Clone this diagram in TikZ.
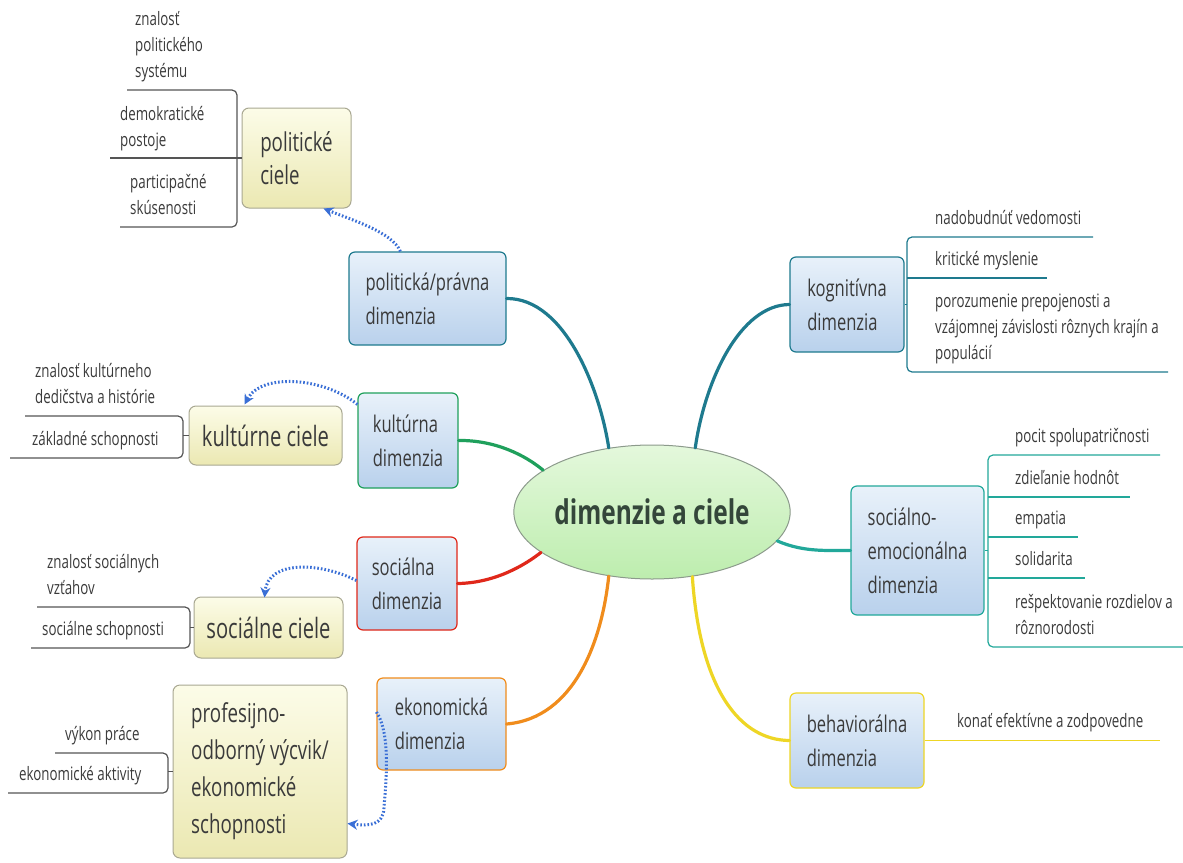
\documentclass[tikz,border=0pt]{standalone}
\usepackage{fontspec}
\setmainfont{Open Sans}[FakeStretch=0.72]
\usetikzlibrary{shapes.geometric,arrows.meta,calc}

\definecolor{txt}{HTML}{3A3A3A}
\definecolor{roottext}{HTML}{34463A}
\definecolor{roottop}{HTML}{E4F8DC}
\definecolor{rootbot}{HTML}{BDEDAE}
\definecolor{rootborder}{HTML}{8C9A8C}
\definecolor{dimtop}{HTML}{E8F1FA}
\definecolor{dimbot}{HTML}{B9D1EC}
\definecolor{goaltop}{HTML}{FCFCE8}
\definecolor{goalbot}{HTML}{EBE8B2}
\definecolor{goalborder}{HTML}{A9A892}
\definecolor{polc}{HTML}{1E7A8E}
\definecolor{kogc}{HTML}{1E7A8E}
\definecolor{kulc}{HTML}{1FA05C}
\definecolor{emoc}{HTML}{22A89A}
\definecolor{socc}{HTML}{E0281A}
\definecolor{ekoc}{HTML}{F08C1C}
\definecolor{behc}{HTML}{EED625}
\definecolor{leafgray}{HTML}{555555}
\definecolor{arrowblue}{HTML}{3A6FD6}

\begin{document}
\begin{tikzpicture}[x=1pt,y=-1pt,
  root/.style={ellipse, draw=rootborder, line width=1pt, top color=roottop,
    bottom color=rootbot, text=roottext, inner sep=0pt,
    minimum width=275pt, minimum height=134pt,
    font=\fontsize{34}{40}\selectfont\bfseries},
  dimbox/.style={draw=#1, line width=1.2pt, rounded corners=6pt,
    top color=dimtop, bottom color=dimbot, text=txt, align=left,
    inner sep=0pt, font=\fontsize{23}{34}\selectfont},
  goalbox/.style={draw=goalborder, line width=1pt, rounded corners=7pt,
    top color=goaltop, bottom color=goalbot, text=txt, align=left,
    inner sep=0pt},
  leaf/.style={anchor=south west, inner sep=0pt, text depth=0pt, align=left,
    text=txt, font=\fontsize{18.5}{26}\selectfont},
  branch/.style={draw=#1, line width=3.2pt, line cap=round},
  bline/.style={draw=#1, line width=1.2pt, rounded corners=5pt},
  goto/.style={draw=arrowblue, line width=3pt, dash pattern=on 1.6pt off 2pt,
    -{Stealth[length=10pt,width=10pt]}},
]
\useasboundingbox (0,0) rectangle (1183,862);
\fill[white] (0,0) rectangle (1183,862);

% central topic
\node[root] (root) at (652,512) {dimenzie a ciele};

% dimensions
\node[dimbox=polc, minimum width=157pt, minimum height=93pt] (pol) at (427.5,298.5) {politická/právna\\dimenzia};
\node[dimbox=kulc, minimum width=100pt, minimum height=95pt] (kul) at (408,440.5) {kultúrna\\dimenzia};
\node[dimbox=socc, minimum width=100pt, minimum height=93pt] (soc) at (407,583.5) {sociálna\\dimenzia};
\node[dimbox=ekoc, minimum width=129pt, minimum height=92pt] (eko) at (441.5,724) {ekonomická\\dimenzia};
\node[dimbox=kogc, minimum width=114pt, minimum height=95pt] (kog) at (847,304.5) {kognitívna\\dimenzia};
\node[dimbox=emoc, minimum width=133pt, minimum height=129pt] (emo) at (917.5,550.5) {sociálno-\\emocionálna\\dimenzia};
\node[dimbox=behc, minimum width=134pt, minimum height=95pt] (beh) at (857,740.5) {behaviorálna\\dimenzia};

% goals
\node[goalbox, minimum width=109pt, minimum height=100pt, font=\fontsize{26}{33}\selectfont] (pc) at (296.5,158) {politické\\ciele};
\node[goalbox, minimum width=153pt, minimum height=59pt, font=\fontsize{28}{34}\selectfont] (kc) at (265.5,435.5) {kultúrne ciele};
\node[goalbox, minimum width=149pt, minimum height=61pt, font=\fontsize{28}{34}\selectfont] (sc) at (268.5,627.5) {sociálne ciele};
\node[goalbox, minimum width=174pt, minimum height=173pt, font=\fontsize{26}{37}\selectfont] (pro) at (260,771.5) {profesijno-\\odborný výcvik/\\ekonomické\\schopnosti};

% main branches
\draw[branch=polc] (pol.east) .. controls (565,298) and (600,390) .. (root.124);
\draw[branch=kogc] (root.56) .. controls (705,380) and (740,305) .. (kog.west);
\draw[branch=kulc] (kul.east) .. controls (495,440) and (525,455) .. (root.159);
\draw[branch=emoc] (root.-13) .. controls (805,553) and (830,550) .. (emo.west);
\draw[branch=socc] (soc.east) .. controls (495,583) and (525,565) .. (root.200);
\draw[branch=ekoc] (eko.east) .. controls (575,718) and (602,640) .. (root.236);
\draw[branch=behc] (root.302) .. controls (700,690) and (740,740) .. (beh.west);

% political goals
\draw[bline=leafgray] (127,90) -- (237,90) -- (237,227) -- (120,227);
\draw[bline=leafgray] (110,158) -- (pc.west);
\node[leaf] (pc1) at (135,78) {znalosť\\politického\\systému};
\node[leaf] (pc2) at (120,147) {demokratické\\postoje};
\node[leaf] (pc3) at (130,215) {participačné\\skúsenosti};

% cultural goals
\draw[bline=leafgray] (25,416) -- (183,416) -- (183,458) -- (10,458);
\draw[bline=leafgray] (183,435.5) -- (kc.west);
\node[leaf] (kc1) at (35,404) {znalosť kultúrneho\\dedičstva a histórie};
\node[leaf] (kc2) at (32,446) {základné schopnosti};

% social goals
\draw[bline=leafgray] (37,607) -- (190,607) -- (190,648) -- (31,648);
\draw[bline=leafgray] (190,627.5) -- (sc.west);
\node[leaf] (sc1) at (47,595) {znalosť sociálnych\\vzťahov};
\node[leaf] (sc2) at (42,636) {sociálne schopnosti};

% vocational goals
\draw[bline=leafgray] (55,753) -- (168,753) -- (168,793) -- (8,793);
\draw[bline=leafgray] (168,771.5) -- (pro.west);
\node[leaf] (pr1) at (65,741) {výkon práce};
\node[leaf] (pr2) at (19,781) {ekonomické aktivity};

% cognitive leaves
\draw[bline=kogc] (1093,237) -- (907,237) -- (907,372) -- (1168,372);
\draw[bline=kogc] (907,278) -- (1047,278);
\draw[bline=kogc] (kog.east) -- (907,304.5);
\node[leaf] (kg1) at (935,225) {nadobudnúť vedomosti};
\node[leaf] (kg2) at (935,266) {kritické myslenie};
\node[leaf] (kg3) at (935,360) {porozumenie prepojenosti a\\vzájomnej závislosti rôznych krajín a\\populácií};

% socio-emotional leaves
\draw[bline=emoc] (1160,455) -- (988,455) -- (988,647) -- (1183,647);
\draw[bline=emoc] (988,497) -- (1130,497);
\draw[bline=emoc] (988,537) -- (1078,537);
\draw[bline=emoc] (988,578) -- (1085,578);
\draw[bline=emoc] (emo.east) -- (988,550.5);
\node[leaf] (em1) at (1015,443) {pocit spolupatričnosti};
\node[leaf] (em2) at (1015,485) {zdieľanie hodnôt};
\node[leaf] (em3) at (1015,525) {empatia};
\node[leaf] (em4) at (1015,566) {solidarita};
\node[leaf] (em5) at (1015,635) {rešpektovanie rozdielov a\\rôznorodosti};

% behavioural leaf
\coordinate (behend) at (1160,740.5);
\draw[draw=behc, line width=1.8pt] (beh.east) -- (behend);
\node[leaf] (bh1) at (957,728) {konať efektívne a zodpovedne};

% links from dimensions to goals
\draw[goto] ($(pol.north west)+(52,0)$) .. controls (392,232) and (352,220) .. ($(pc.south east)+(-28,0)$);
\draw[goto] ($(kul.north west)+(0,12)$) .. controls (325,378) and (262,372) .. ($(kc.north west)+(56,-1)$);
\draw[goto] ($(soc.west)+(0,-3)$) .. controls (320,562) and (268,560) .. ($(sc.north west)+(71,1)$);
\draw[goto] ($(eko.west)+(0,-12)$) .. controls (392,735) and (385,790) .. (384,808)
  .. controls (383,826) and (368,826) .. ($(pro.east)+(0,52)$);
\end{tikzpicture}
\end{document}
